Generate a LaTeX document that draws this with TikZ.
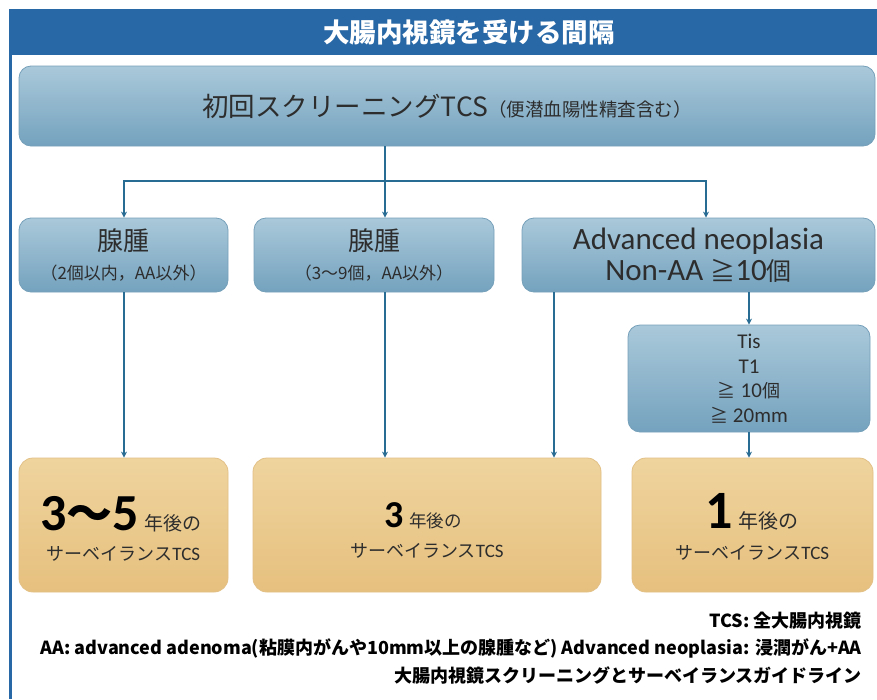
\documentclass[tikz,border=0pt]{standalone}
\usepackage{fontspec}
\setmainfont{Noto Sans CJK JP}
\newfontfamily\cjk{Noto Sans CJK JP}
\newfontfamily\lat{Carlito}
\usetikzlibrary{arrows.meta}
\definecolor{titleblue}{RGB}{40,104,166}
\definecolor{boxtop}{RGB}{170,201,218}
\definecolor{boxbot}{RGB}{116,162,190}
\definecolor{boxline}{RGB}{118,160,186}
\definecolor{ortop}{RGB}{239,212,158}
\definecolor{orbot}{RGB}{230,192,126}
\definecolor{orline}{RGB}{226,192,134}
\definecolor{linkcol}{RGB}{40,108,148}
\definecolor{txt}{RGB}{45,45,45}
\newcommand{\fs}[1]{\fontsize{#1}{#1}\selectfont}
\tikzset{
  bluebox/.style={draw=boxline, line width=0.8pt, rounded corners=12pt,
    top color=boxtop, bottom color=boxbot, inner sep=0pt, text=txt, align=center},
  orbox/.style={draw=orline, line width=0.8pt, rounded corners=14pt,
    top color=ortop, bottom color=orbot, inner sep=0pt},
  ortext/.style={anchor=base, inner sep=0pt, text=txt},
  link/.style={draw=linkcol, line width=1.8pt},
  arr/.style={link, -{Stealth[length=6pt,width=6pt]}},
  foot/.style={anchor=east, inner sep=0pt, text=black, font=\bfseries\fs{18}}
}
\begin{document}
\begin{tikzpicture}[x=1pt,y=-1pt]
\useasboundingbox (0,0) rectangle (877,699);
\fill[white] (0,0) rectangle (877,699);
% frame and title bar
\fill[titleblue] (9,9) rectangle (877,55);
\draw[titleblue, line width=3pt] (10.5,9) -- (10.5,699);
\node[text=white, font=\bfseries\fs{26.5}, inner sep=0pt] (title) at (469,32) {大腸内視鏡を受ける間隔};
% boxes
\node[bluebox, minimum width=856, minimum height=80] (top) at (447,106)
  {{\fs{26.5}初回スクリーニングTCS}{\fs{18.5}（便潜血陽性精査含む）}};
\node[bluebox, minimum width=209, minimum height=74, font=\fontsize{26}{29}\selectfont] (b1) at (123.5,255)
  {腺腫\\{\fs{17}（2個以内，AA以外）}};
\node[bluebox, minimum width=240, minimum height=74, font=\fontsize{26}{29}\selectfont] (b2) at (374,255)
  {腺腫\\{\fs{17}（3～9個，AA以外）}};
\node[bluebox, minimum width=353, minimum height=74, font=\lat\fontsize{31}{31}\selectfont] (b3) at (698.5,255)
  {Advanced neoplasia\\Non-AA {\cjk\fs{25}≧}10{\cjk\fs{25}個}};
\node[bluebox, minimum width=242, minimum height=107, font=\lat\fontsize{21}{24.5}\selectfont] (b4) at (749,378.5)
  {Tis\\T1\\{\cjk\fs{18}≧} 10{\cjk\fs{18}個}\\{\cjk\fs{18}≧} 20mm};
\node[orbox, minimum width=209, minimum height=134] (o1) at (123.5,525) {};
\node[orbox, minimum width=348, minimum height=134] (o2) at (427,525) {};
\node[orbox, minimum width=241, minimum height=134] (o3) at (752.5,525) {};
\node[ortext, text=black] (o1a) at (121,530)
  {{\lat\bfseries\fs{52}3}{\cjk\bfseries\fs{46}～}{\lat\bfseries\fs{52}5}\hspace{6pt}{\color{txt}\fs{19}年後の}};
\node[ortext] (o1b) at (123.5,560) {{\fs{18}サーベイランス}{\lat\fs{19}TCS}};
\node[ortext, text=black] (o2a) at (423,527)
  {{\lat\bfseries\fs{38}3}\hspace{6pt}{\color{txt}\fs{17.5}年後の}};
\node[ortext] (o2b) at (427,557) {{\fs{18}サーベイランス}{\lat\fs{19}TCS}};
\node[ortext, text=black] (o3a) at (752,528)
  {{\lat\bfseries\fs{54}1}\hspace{6pt}{\color{txt}\fs{20}年後の}};
\node[ortext] (o3b) at (752.5,559) {{\fs{18}サーベイランス}{\lat\fs{19}TCS}};
% connectors
\coordinate (j) at (385,181);
\coordinate (jl) at (124,181);
\coordinate (jr) at (706,181);
\coordinate (c3) at (554,300);
\coordinate (c4) at (749,300);
\draw[link] (top.south -| j) -- (j);
\draw[link, line cap=rect] (jl) -- (jr);
\draw[arr] (jl) -- (jl |- b1.north);
\draw[arr] (j) -- (j |- b2.north);
\draw[arr] (jr) -- (jr |- b3.north);
\draw[arr] (b1.south -| jl) -- (o1.north -| jl);
\draw[arr] (b2.south -| j) -- (o2.north -| j);
\draw[arr] (b3.south -| c3) -- (o2.north -| c3);
\draw[arr] (b3.south -| c4) -- (b4.north -| c4);
\draw[arr] (b4.south -| c4) -- (o3.north -| c4);
% footnotes
\node[foot] (f1) at (862,621) {TCS: 全大腸内視鏡};
\node[foot] (f2) at (862,648) {AA: advanced adenoma(粘膜内がんや10mm以上の腺腫など) Advanced neoplasia: 浸潤がん+AA};
\node[foot] (f3) at (862,675) {大腸内視鏡スクリーニングとサーベイランスガイドライン};
\end{tikzpicture}
\end{document}
